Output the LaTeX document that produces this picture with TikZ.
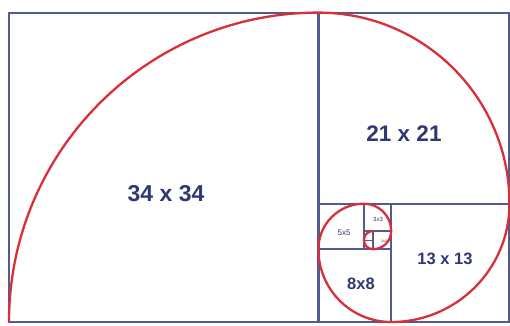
\documentclass[tikz,border=0pt]{standalone}
\usepackage{fontspec}
\setmainfont{Liberation Sans}
\definecolor{frame}{HTML}{525A8E}
\definecolor{lab}{HTML}{2F3873}
\definecolor{spiral}{HTML}{D8303A}
\begin{document}
\begin{tikzpicture}[x=1pt,y=1pt,
  sq/.style={draw=frame,line width=2.2pt},
  spir/.style={draw=spiral,line width=2.3pt},
  lbl/.style={text=lab,font=\bfseries,inner sep=0pt}]
\useasboundingbox (0,0) rectangle (510,325);
\fill[white] (0,0) rectangle (510,325);
\begin{scope}[shift={(9,3)},x=9.1pt,y=9.1pt]
  % squares
  \draw[sq] (0,0) rectangle (34,34);
  \draw[sq] (34,13) rectangle (55,34);
  \draw[sq] (42,0) rectangle (55,13);
  \draw[sq] (34,0) rectangle (42,8);
  \draw[sq] (34,8) rectangle (39,13);
  \draw[sq,line width=1.5pt] (39,10) rectangle (42,13);
  \draw[sq,line width=1.2pt] (40,8) rectangle (42,10);
  \draw[sq,line width=0.9pt] (39,9) rectangle (40,10);
  \draw[sq,line width=0.9pt] (39,8) rectangle (40,9);
  % spiral
  \draw[spir] (0,0) arc[start angle=180,end angle=90,radius=34]
    arc[start angle=90,end angle=0,radius=21]
    arc[start angle=0,end angle=-90,radius=13]
    arc[start angle=-90,end angle=-180,radius=8]
    arc[start angle=180,end angle=90,radius=5]
    arc[start angle=90,end angle=0,radius=3]
    arc[start angle=0,end angle=-90,radius=2]
    arc[start angle=-90,end angle=-180,radius=1]
    arc[start angle=180,end angle=90,radius=1];
\end{scope}
\node[lbl,font=\bfseries\fontsize{23}{23}\selectfont] (l34) at (166,131) {34 x 34};
\node[lbl,font=\bfseries\fontsize{22.5}{22.5}\selectfont] (l21) at (404,191) {21 x 21};
\node[lbl,font=\bfseries\fontsize{16.5}{16.5}\selectfont] (l13) at (445,66) {13 x 13};
\node[lbl,font=\bfseries\fontsize{16.5}{16.5}\selectfont] (l8) at (361,41) {8x8};
\node[lbl,font=\fontsize{8}{8}\selectfont] (l5) at (344,92) {5x5};
\node[lbl,font=\fontsize{6}{6}\selectfont] (l3) at (378,106) {3x3};
\node[lbl,font=\fontsize{3.5}{3.5}\selectfont] (l2) at (384,84) {2x2};
\end{tikzpicture}
\end{document}
